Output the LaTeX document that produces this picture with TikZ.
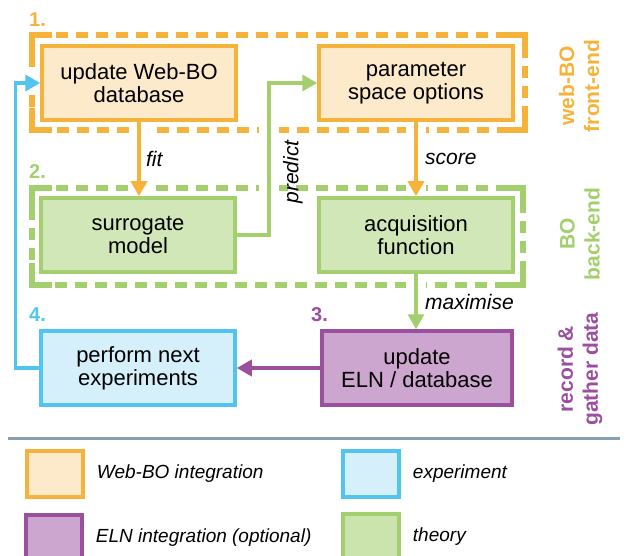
\documentclass[tikz,border=0pt]{standalone}
\usepackage{fontspec}
\setmainfont{Liberation Sans}
\usepackage{tikz}
\usetikzlibrary{arrows.meta,positioning}

\definecolor{orng}{HTML}{F6B33C}
\definecolor{orngfill}{HTML}{FDEACB}
\definecolor{grn}{HTML}{A3CF6F}
\definecolor{grnfill}{HTML}{D2E7B7}
\definecolor{blu}{HTML}{52C4F1}
\definecolor{blufill}{HTML}{D5EFFB}
\definecolor{purp}{HTML}{9B4F9F}
\definecolor{purpfill}{HTML}{CDA6CF}
\definecolor{sepcol}{HTML}{8C9EB2}

\pgfdeclarelayer{bg}
\pgfsetlayers{bg,main}

\tikzset{
    box/.style={draw, line width=3.5pt, minimum width=194pt, minimum height=74pt,
        align=center, inner sep=0pt, font=\fontsize{22}{23}\selectfont},
    frame/.style={line width=5.5pt, dash pattern=on 12pt off 8pt},
    corner/.style={line width=5.5pt},
    gap/.style={white, line width=20pt},
    conn/.style={line width=3.5pt, -{Triangle[length=15pt,width=16pt]}},
    lbl/.style={font=\fontsize{21}{23}\selectfont\itshape},
    num/.style={anchor=west, inner sep=0pt, font=\fontsize{20}{22}\selectfont\bfseries},
    side/.style={rotate=90, align=center, font=\fontsize{21}{25}\selectfont\bfseries},
    swatch/.style={draw, line width=3.5pt, minimum width=56pt, minimum height=46pt, inner sep=0pt},
    leg/.style={inner sep=0pt, font=\fontsize{19}{21}\selectfont\itshape},
}

\begin{document}
\begin{tikzpicture}[x=1pt, y=-1pt]
    \useasboundingbox (0,0) rectangle (626,556);
    \clip (0,0) rectangle (626,556);

    % the six steps
    \node[box, draw=orng, fill=orngfill] (upd) at (139,83) {update Web-BO\\database};
    \node[box, draw=orng, fill=orngfill] (par) at (416,83) {parameter\\space options};
    \node[box, draw=grn, fill=grnfill] (sur) at (138,235) {surrogate\\model};
    \node[box, draw=grn, fill=grnfill] (acq) at (416,235) {acquisition\\function};
    \node[box, draw=purp, fill=purpfill, minimum width=190pt] (eln) at (417,368) {update\\ELN / database};
    \node[box, draw=blu, fill=blufill] (per) at (138,368) {perform next\\experiments};

    \node[num, text=orng] (n1) at (29,20) {1.};
    \node[num, text=grn] (n2) at (29,172) {2.};
    \node[num, text=purp] (n3) at (311,315) {3.};
    \node[num, text=blu] (n4) at (29,315) {4.};

    % dashed groups, with gaps where the arrows cross
    \begin{pgfonlayer}{bg}
    \foreach \c/\xa/\ya/\xb/\yb in {orng/32/35/525/130, grn/32/188/523/285} {
        \draw[frame, draw=\c] (\xa,\ya) rectangle (\xb,\yb);
        \draw[corner, draw=\c] (\xa+20,\ya) -- (\xa,\ya) -- (\xa,\ya+22);
        \draw[corner, draw=\c] (\xb-20,\ya) -- (\xb,\ya) -- (\xb,\ya+22);
        \draw[corner, draw=\c] (\xb-20,\yb) -- (\xb,\yb) -- (\xb,\yb-22);
        \draw[corner, draw=\c] (\xa+20,\yb) -- (\xa,\yb) -- (\xa,\yb-22);
    }
    \draw[gap] (upd.south) -- (upd.south |- sur.north);
    \draw[gap] (sur.east) -- ++(32,0) |- (par.west);
    \draw[gap] (par.south) -- (acq.north);
    \draw[gap] (acq.south) -- (acq.south |- eln.north);
    \draw[gap] (per.west) -- ++(-24,0) |- (upd.west);
    \end{pgfonlayer}

    % arrows
    \draw[conn, orng] (upd.south) -- (upd.south |- sur.north)
        node[lbl, midway, right=2pt, text=black] {fit};
    \draw[conn, grn] (sur.east) -- ++(32,0) |- (par.west);
    \node[lbl, rotate=90] (prd) at (293,172) {predict};
    \draw[conn, orng] (par.south) -- (acq.north)
        node[lbl, midway, right=4pt, text=black] {score};
    \draw[conn, grn] (acq.south) -- (acq.south |- eln.north)
        node[lbl, midway, right=4pt, text=black] {maximise};
    \draw[conn, purp] (eln.west) -- (per.east);
    \draw[conn, blu] (per.west) -- ++(-24,0) |- (upd.west);

    % side captions
    \node[side, text=orng] (fe) at (579,86) {web-BO\\front-end};
    \node[side, text=grn] (be) at (580,234) {BO\\back-end};
    \node[side, text=purp] (rg) at (580,369) {record \&\\gather data};

    % legend
    \draw[line width=3pt, sepcol] (8,438) -- (620,438);
    \node[swatch, draw=orng, fill=orngfill] (k1) at (55,474) {};
    \node[swatch, draw=blu, fill=blufill] (k2) at (371,474) {};
    \node[swatch, draw=purp, fill=purpfill] (k3) at (54,538) {};
    \node[swatch, draw=grn, fill=grnfill!85!grn] (k4) at (371,537) {};
    \node[leg, right=12pt of k1] (t1) {Web-BO integration};
    \node[leg, right=12pt of k2] (t2) {experiment};
    \node[leg, right=12pt of k3] (t3) {ELN integration (optional)};
    \node[leg, right=12pt of k4] (t4) {theory};
\end{tikzpicture}
\end{document}
